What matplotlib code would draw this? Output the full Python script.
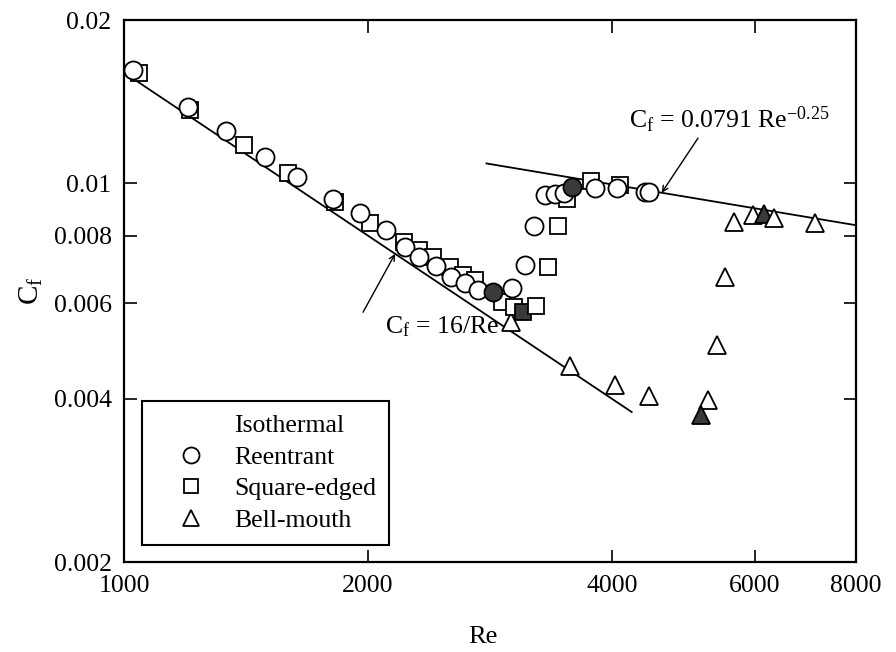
"""Friction factor vs. Reynolds number for three inlet geometries (isothermal).

Log-log plot of C_f against Re with the laminar (16/Re) and Blasius
(0.0791 Re^-0.25) reference lines. Writes out.png.
"""

import matplotlib

matplotlib.use("Agg")
import matplotlib.pyplot as plt  # noqa: E402
import numpy as np  # noqa: E402
from matplotlib.lines import Line2D  # noqa: E402

# Reentrant inlet
RE_REENTRANT = [1026, 1199, 1336, 1493, 1635, 1811, 1955, 2105, 2222, 2312,
                2426, 2532, 2634, 2734, 2853, 3011, 3124, 3205, 3307, 3402,
                3490, 3570, 3811, 4057, 4393, 4444]
CF_REENTRANT = [0.01617, 0.01382, 0.01248, 0.01118, 0.01027, 0.00935, 0.00881,
                0.00820, 0.00763, 0.00731, 0.00703, 0.00671, 0.00654, 0.00635,
                0.00630, 0.00640, 0.00706, 0.00834, 0.00951, 0.00955, 0.00959,
                0.00984, 0.00980, 0.00980, 0.00963, 0.00963]
SHADED_REENTRANT = [14, 21]

# Square-edged inlet
RE_SQUARE = [1044, 1206, 1406, 1594, 1821, 2012, 2215, 2312, 2406, 2525, 2620,
             2710, 2926, 3028, 3106, 3224, 3336, 3431, 3520, 3768, 4092]
CF_SQUARE = [0.01597, 0.01365, 0.01175, 0.01044, 0.00923, 0.00844, 0.00779,
             0.00753, 0.00731, 0.00700, 0.00677, 0.00663, 0.00603, 0.00591,
             0.00578, 0.00593, 0.00700, 0.00834, 0.00935, 0.01010, 0.00992]
SHADED_SQUARE = [14]

# Bell-mouth inlet
RE_BELL = [3001, 3549, 4034, 4444, 5254, 5150, 5390, 5513, 5655, 5970, 6158,
           6338, 7120]
CF_BELL = [0.00555, 0.00460, 0.00424, 0.00405, 0.00398, 0.00373, 0.00503,
           0.00671, 0.00848, 0.00874, 0.00877, 0.00862, 0.00844]
SHADED_BELL = [5, 10]

# reference correlations and the Re range each is drawn over
LAMINAR_RANGE = [1020, 4230]
BLASIUS_RANGE = [2800, 8000]

X_TICKS = [1000, 2000, 4000, 6000, 8000]
X_TICK_LABELS = ["1000", "2000", "4000", "6000", "8000"]
Y_TICKS = [0.002, 0.004, 0.006, 0.008, 0.01, 0.02]
Y_TICK_LABELS = ["0.002", "0.004", "0.006", "0.008", "0.01", "0.02"]

SHADE = "#3a3a3a"
FS = 18.5

plt.rcParams["font.family"] = ["Liberation Serif", "DejaVu Serif"]
plt.rcParams["mathtext.fontset"] = "custom"
plt.rcParams["mathtext.rm"] = "Liberation Serif"
plt.rcParams["mathtext.it"] = "Liberation Serif:italic"


def scatter_series(ax, re, cf, shaded, marker, size, z):
    face = np.array(["white"] * len(re), dtype=object)
    face[shaded] = SHADE
    for x, y, fc in zip(re, cf, face):
        ax.plot(x, y, linestyle="none", marker=marker, markersize=size,
                markerfacecolor=fc, markeredgecolor="black",
                markeredgewidth=1.3, zorder=z)


def main():
    fig = plt.figure(figsize=(8.96, 6.52), dpi=100)
    ax = fig.add_axes([0.1384, 0.1380, 0.8170, 0.8313])
    ax.set_xscale("log")
    ax.set_yscale("log")
    ax.set_xlim(1000, 8000)
    ax.set_ylim(0.002, 0.02)

    lam = np.array(LAMINAR_RANGE, dtype=float)
    ax.plot(lam, 16.0 / lam, color="black", lw=1.3, zorder=2)
    bl = np.array(BLASIUS_RANGE, dtype=float)
    ax.plot(bl, 0.0791 * bl ** -0.25, color="black", lw=1.3, zorder=2)

    scatter_series(ax, RE_BELL, CF_BELL, SHADED_BELL, "^", 12.5, 3)
    scatter_series(ax, RE_SQUARE, CF_SQUARE, SHADED_SQUARE, "s", 11, 4)
    scatter_series(ax, RE_REENTRANT, CF_REENTRANT, SHADED_REENTRANT, "o", 13, 5)

    arrow = dict(arrowstyle="->", color="black", lw=1.0, shrinkA=0, shrinkB=0)
    ax.annotate("", xy=(2160, 16.0 / 2160), xytext=(1972, 0.00578),
                arrowprops=arrow)
    ax.text(2099, 0.00543, r"C$_\mathrm{f}$ = 16/Re", fontsize=FS,
            va="center", ha="left")
    ax.annotate("", xy=(4606, 0.0791 * 4606 ** -0.25), xytext=(5107, 0.01211),
                arrowprops=arrow)
    ax.text(4198, 0.01264, r"C$_\mathrm{f}$ = 0.0791 Re$^{-0.25}$",
            fontsize=FS, va="baseline", ha="left")

    ax.set_xticks(X_TICKS, X_TICK_LABELS)
    ax.set_yticks(Y_TICKS, Y_TICK_LABELS)
    ax.minorticks_off()
    ax.tick_params(which="major", direction="in", length=9, width=1.2,
                   top=True, right=True, labelsize=FS, pad=9)
    for side in ax.spines.values():
        side.set_linewidth(1.6)

    ax.set_xlabel("Re", fontsize=19, va="center")
    ax.xaxis.set_label_coords(0.49, -0.138)
    ax.set_ylabel(r"C$_\mathrm{f}$", fontsize=21, labelpad=6)

    handles = [
        Line2D([], [], linestyle="none", marker=None),
        Line2D([], [], linestyle="none", marker="o", markersize=11.5,
               markerfacecolor="white", markeredgecolor="black", markeredgewidth=1.3),
        Line2D([], [], linestyle="none", marker="s", markersize=10.5,
               markerfacecolor="white", markeredgecolor="black", markeredgewidth=1.3),
        Line2D([], [], linestyle="none", marker="^", markersize=11.5,
               markerfacecolor="white", markeredgecolor="black", markeredgewidth=1.3),
    ]
    labels = ["Isothermal", "Reentrant", "Square-edged", "Bell-mouth"]
    leg = ax.legend(handles, labels, loc="lower left",
                    bbox_to_anchor=(0.0246, 0.0314), borderaxespad=0,
                    fontsize=FS, frameon=True, fancybox=False,
                    edgecolor="black", framealpha=1, handlelength=2.8,
                    handletextpad=0.3, labelspacing=0.34, borderpad=0.5)
    leg.get_frame().set_linewidth(1.5)
    leg.set_zorder(6)

    fig.savefig("out.png", dpi=100)


if __name__ == "__main__":
    main()
